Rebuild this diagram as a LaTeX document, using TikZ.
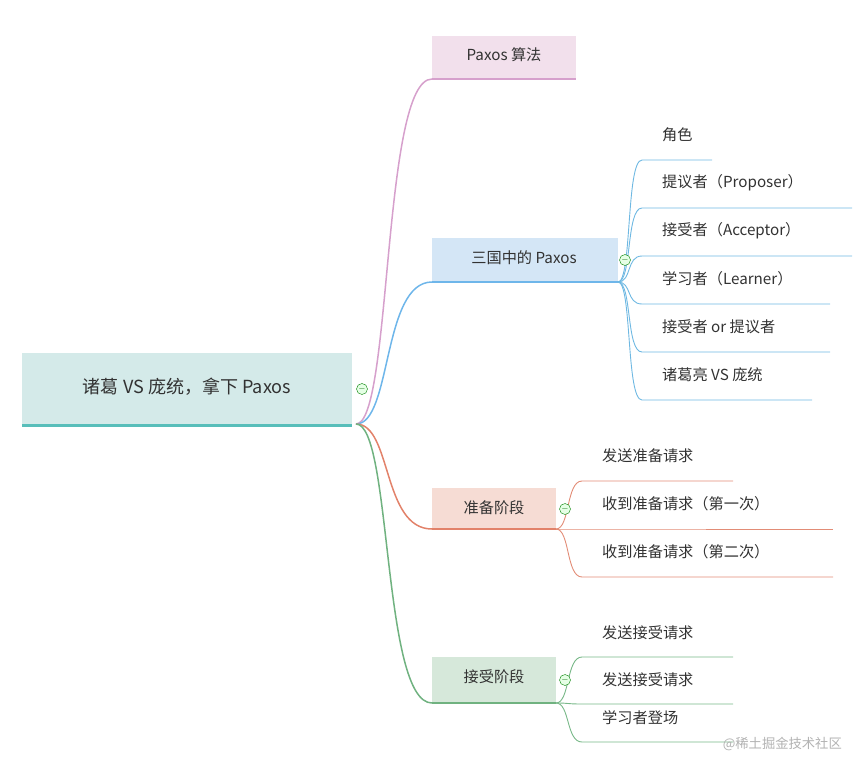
\documentclass[tikz,border=0pt]{standalone}
\usepackage{fontspec}
\setmainfont{Liberation Mono}
\newfontfamily\cjk{Noto Sans CJK SC}[Scale=0.95]
\usetikzlibrary{positioning}
\definecolor{rootfill}{RGB}{212, 234, 233}
\definecolor{rootline}{RGB}{88, 190, 186}
\definecolor{pinkfill}{RGB}{242, 224, 236}
\definecolor{pinkline}{RGB}{214, 160, 204}
\definecolor{bluefill}{RGB}{212, 230, 246}
\definecolor{blueline}{RGB}{110, 182, 234}
\definecolor{redfill}{RGB}{246, 220, 212}
\definecolor{redline}{RGB}{226, 130, 106}
\definecolor{greenfill}{RGB}{214, 232, 218}
\definecolor{greenline}{RGB}{112, 178, 128}
\definecolor{leafblue}{RGB}{110, 184, 226}
\definecolor{leafred}{RGB}{226, 140, 118}
\definecolor{leafgreen}{RGB}{120, 184, 136}
\definecolor{inktext}{RGB}{50, 50, 50}
\tikzset{%
    topic/.style={text=inktext, inner sep=0pt, font=\cjk\fontsize{16}{18}\selectfont},
    leaf/.style={topic, anchor=west},
    leafline/.style={line width=0.9pt},
    fold/.style={circle, draw=green!50!black, fill=green!10, minimum size=11pt,
        inner sep=0pt, font=\fontsize{9}{9}\selectfont, text=green!40!black}
}
\begin{document}
\begin{tikzpicture}[x=1pt, y=-1pt]
    \useasboundingbox (0, 0) rectangle (864, 776);

    % Root
    \fill[rootfill] (22, 353) rectangle (352, 425);
    \draw[rootline, line width=3pt] (22, 425) -- (352, 425);
    \node[topic, font=\cjk\fontsize{19}{21}\selectfont] (root) at (187, 387)
        {诸葛 VS 庞统，拿下 Paxos};
    \coordinate (hub) at (356, 424);

    % Main topics
    \fill[pinkfill] (432, 36) rectangle (576, 79);
    \draw[pinkline, line width=2.5pt] (432, 79) -- (576, 79);
    \node[topic] (algo) at (504, 55) {Paxos 算法};

    \fill[bluefill] (432, 238) rectangle (618, 282);
    \draw[blueline, line width=2.5pt] (432, 282) -- (618, 282);
    \node[topic] (three) at (524, 258) {三国中的 Paxos};

    \fill[redfill] (432, 488) rectangle (556, 529);
    \draw[redline, line width=2.5pt] (432, 529) -- (556, 529);
    \node[topic] (prep) at (494, 508) {准备阶段};

    \fill[greenfill] (432, 657) rectangle (556, 703);
    \draw[greenline, line width=2.5pt] (432, 703) -- (556, 703);
    \node[topic] (accept) at (494, 677) {接受阶段};

    % Connecting root to topics
    \draw[pinkline, line width=1.5pt] (hub) .. controls (392, 424) and (382, 79) .. (432, 79);
    \draw[blueline, line width=1.5pt] (hub) .. controls (392, 424) and (382, 282) .. (432, 282);
    \draw[redline, line width=1.5pt] (hub) .. controls (392, 424) and (382, 529) .. (432, 529);
    \draw[greenline, line width=1.5pt] (hub) .. controls (392, 424) and (382, 703) .. (432, 703);

    % Leaves of the second topic
    \foreach \y/\len/\name/\label in {%
            135/712/role/角色,
            183/852/prop/提议者（Proposer）,
            231/852/acc/接受者（Acceptor）,
            279/830/learn/学习者（Learner）,
            327/830/either/接受者 or 提议者,
            375/812/duel/诸葛亮 VS 庞统}{%
        \node[leaf] (\name) at (662, \y) {\label};
        \draw[leafblue, leafline] (618, 282) .. controls (632, 282) and (626, \y+25) .. (642, \y+25)
            -- (\len, \y+25);
    }

    % Leaves of the third topic
    \foreach \y/\len/\name/\label in {%
            456/733/sendprep/发送准备请求,
            504/833/firstrecv/收到准备请求（第一次）,
            552/833/secondrecv/收到准备请求（第二次）}{%
        \node[leaf] (\name) at (602, \y) {\label};
        \draw[leafred, leafline] (556, 529) .. controls (570, 529) and (566, \y+25) .. (582, \y+25)
            -- (\len, \y+25);
    }

    % Leaves of the fourth topic
    \foreach \y/\name/\label in {%
            633/sendacc/发送接受请求,
            680/sendacc2/发送接受请求,
            718/learner/学习者登场}{%
        \node[leaf] (\name) at (602, \y) {\label};
        \draw[leafgreen, leafline] (556, 703) .. controls (570, 703) and (566, \y+24) .. (582, \y+24)
            -- (733, \y+24);
    }

    % Fold markers
    \node[fold] (f0) at (362, 389) {$-$};
    \node[fold] (f1) at (625, 260) {$-$};
    \node[fold] (f2) at (565, 509) {$-$};
    \node[fold] (f3) at (565, 680) {$-$};

    % Watermark
    \node[topic, text=gray!60, font=\cjk\fontsize{14}{16}\selectfont, anchor=east]
        (mark) at (842, 744) {@稀土掘金技术社区};
\end{tikzpicture}
\end{document}
